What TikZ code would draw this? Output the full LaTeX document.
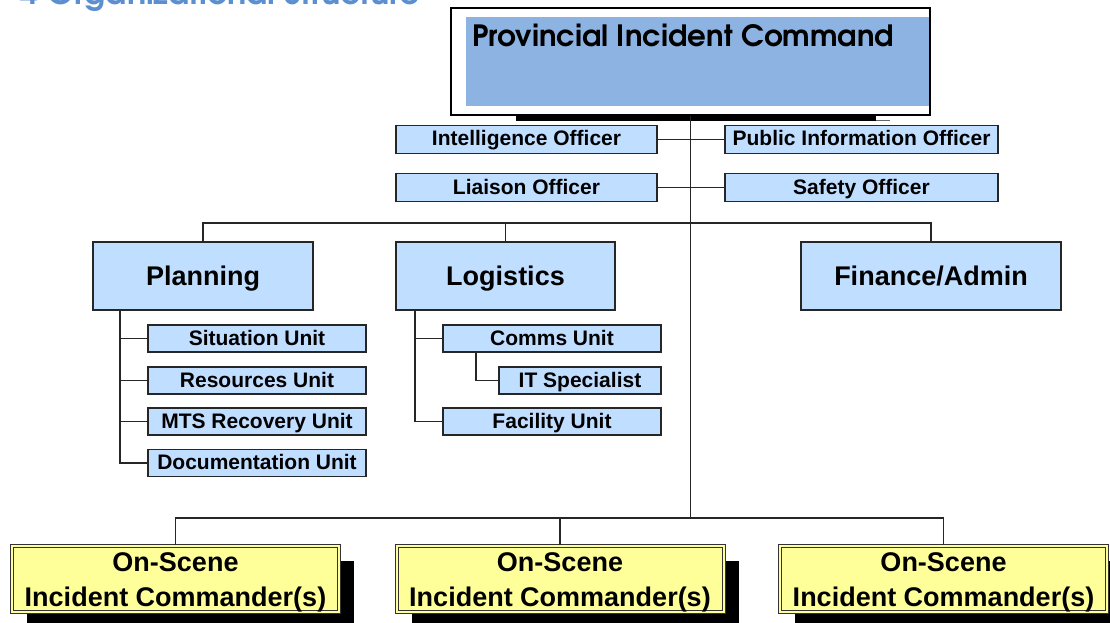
\documentclass[tikz,border=0pt]{standalone}
\usepackage{fontspec}
\setmainfont{Liberation Sans}
\newfontfamily\gothic{texgyreadventor}[Extension=.otf,UprightFont=*-regular,BoldFont=*-bold]
\usepackage{tikz}
\usetikzlibrary{positioning,shadows}

\definecolor{unitblue}{RGB}{192,222,255}
\definecolor{picblue}{RGB}{141,179,226}
\definecolor{oscyellow}{RGB}{255,255,153}
\definecolor{headblue}{RGB}{91,143,208}

\begin{document}
\begin{tikzpicture}[x=1pt,y=-1pt]
  \tikzstyle{link}=[draw=black!85,line width=1.5pt]
  \tikzstyle{cmdbox}=[rectangle,draw,fill=white,line width=1.5pt,minimum width=479pt,minimum height=107pt,inner sep=0pt]
  \tikzstyle{officer}=[rectangle,draw=black!85,fill=unitblue,line width=1.7pt,inner sep=0pt,minimum height=28pt,text height=16pt,text depth=3pt,font=\fontsize{21}{25}\selectfont\bfseries]
  \tikzstyle{unit}=[officer,minimum height=27pt]
  \tikzstyle{chief}=[officer,minimum height=68pt,text height=22pt,text depth=4pt,font=\fontsize{27}{32}\selectfont\bfseries]
  \tikzstyle{onscene}=[rectangle,draw=black!80,line width=1pt,double=oscyellow,double distance=2pt,fill=oscyellow,minimum width=327pt,minimum height=64pt,inner sep=0pt,align=center,font=\fontsize{27}{35}\selectfont\bfseries,drop shadow={shadow xshift=15pt,shadow yshift=-15pt,fill=black,opacity=1}]

  \useasboundingbox (0,0) rectangle (1110,623);
  \clip (0,0) rectangle (1110,623);

  % heading, cut at the top
  \node[anchor=base east,inner sep=0pt,text=headblue,font=\gothic\bfseries\fontsize{32}{36}\selectfont] (heading) at (420,4.5) {4 Organizational Structure};

  % command
  \node[cmdbox] (prov) at (690.5,61.5) {};
  \fill[picblue] ([xshift=16pt,yshift=-10pt]prov.north west) rectangle ([xshift=-1.5pt,yshift=10pt]prov.south east);
  \fill ([xshift=66pt]prov.south west) rectangle ([xshift=-55pt,yshift=-5pt]prov.south east);
  \draw[line width=1pt,black!60] ([xshift=-55pt,yshift=-4.5pt]prov.south east) -- ([xshift=-41pt,yshift=-4.5pt]prov.south east);
  \node[anchor=base west,inner sep=0pt,font=\gothic\bfseries\fontsize{29.3}{33}\selectfont] (provtext) at (472,47) {Provincial Incident Command};

  % command staff
  \node[officer,minimum width=261pt] (intel) at (526.5,139.5) {Intelligence Officer};
  \node[officer,minimum width=273pt] (pio) at (861.5,139.5) {Public Information Officer};
  \node[officer,minimum width=261pt] (liai) at (526.5,187.5) {Liaison Officer};
  \node[officer,minimum width=273pt] (safe) at (861.5,187.5) {Safety Officer};

  % sections
  \node[chief,minimum width=220pt] (plan) at (203,276) {Planning};
  \node[chief,minimum width=219pt] (logi) at (505.5,276) {Logistics};
  \node[chief,minimum width=260pt] (fin) at (931,276) {Finance/Admin};

  % units
  \node[unit,minimum width=218pt] (sit) at (257,338.5) {Situation Unit};
  \node[unit,minimum width=218pt] (res) at (257,380.5) {Resources Unit};
  \node[unit,minimum width=218pt] (mts) at (257,421.5) {MTS Recovery Unit};
  \node[unit,minimum width=218pt] (doc) at (257,463) {Documentation Unit};
  \node[unit,minimum width=218pt] (com) at (552,338.5) {Comms Unit};
  \node[unit,minimum width=162pt] (its) at (580,380.5) {IT Specialist};
  \node[unit,minimum width=218pt] (fac) at (552,421.5) {Facility Unit};

  % on-scene
  \node[onscene] (osc1) at (175.5,579) {\rule{0pt}{26pt}On-Scene\\Incident Commander(s)};
  \node[onscene] (osc2) at (560,579) {\rule{0pt}{26pt}On-Scene\\Incident Commander(s)};
  \node[onscene] (osc3) at (943.5,579) {\rule{0pt}{26pt}On-Scene\\Incident Commander(s)};

  \coordinate (secbus) at (690.5,223);
  \coordinate (bus) at (690.5,518);
  \draw[link] (prov.south) -- (bus);
  \draw[link] (intel) -- (pio);
  \draw[link] (liai) -- (safe);
  \draw[link] (plan.north) |- (secbus) -| (fin.north);
  \draw[link] (logi.north) -- (logi.north |- secbus);
  \draw[link] (osc1.north) |- (bus) -| (osc3.north);
  \draw[link] (osc2.north) -- (osc2.north |- bus);

  \coordinate (pl) at ([xshift=28pt]plan.south west);
  \draw[link] (pl) |- (doc.west);
  \foreach \u in {sit,res,mts}
    \draw[link] (pl |- \u.west) -- (\u.west);
  \coordinate (lg) at ([xshift=20pt]logi.south west);
  \draw[link] (lg) |- (fac.west);
  \draw[link] (lg |- com.west) -- (com.west);
  \draw[link] ([xshift=34pt]com.south west) |- (its.west);
\end{tikzpicture}
\end{document}
